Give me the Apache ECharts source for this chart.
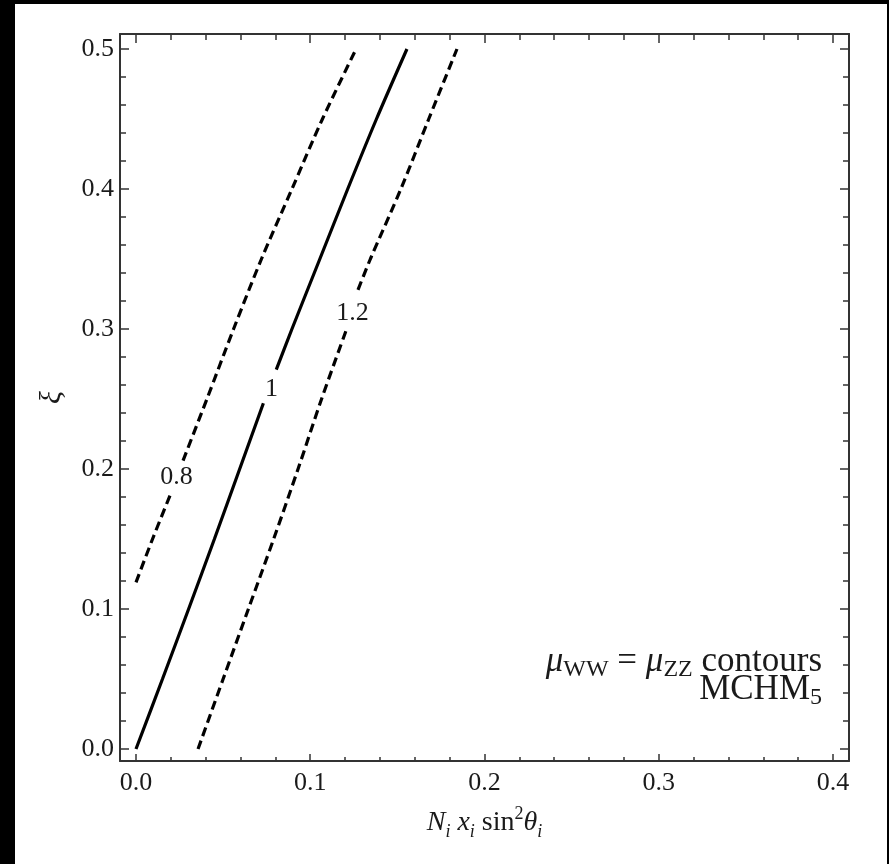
<!DOCTYPE html>
<html>
<head>
<meta charset="utf-8">
<script src="https://cdn.jsdelivr.net/npm/echarts@6/dist/echarts.min.js"></script>
<style>
  html, body { margin: 0; padding: 0; background: #000; }
  #paper { position: absolute; left: 15px; top: 4px; width: 872px; height: 860px; background: #fff; }
  #chart { position: absolute; left: 0; top: 0; width: 889px; height: 864px; }
</style>
</head>
<body>
<div id="paper"></div>
<div id="chart"></div>
<script>
// ---- data (x = N_i x_i sin^2 theta_i, y = xi) ----
const contour08Lower = [[0.0000,0.119],[0.0095,0.150],[0.0195,0.181]];
const contour08Upper = [[0.0270,0.206],[0.0407,0.250],[0.0560,0.300],[0.0720,0.350],[0.0895,0.400],[0.1070,0.450],[0.1263,0.500]];
const contour10Lower = [[0.0000,0.000],[0.0152,0.050],[0.0302,0.100],[0.0450,0.150],[0.0595,0.200],[0.0731,0.247]];
const contour10Upper = [[0.0805,0.271],[0.0895,0.300],[0.1055,0.350],[0.1215,0.400],[0.1380,0.450],[0.1555,0.500]];
const contour12Lower = [[0.0356,0.000],[0.0500,0.050],[0.0645,0.100],[0.0790,0.150],[0.0930,0.200],[0.1065,0.250],[0.1211,0.3007]];
const contour12Upper = [[0.1274,0.328],[0.1345,0.350],[0.1520,0.400],[0.1680,0.450],[0.1842,0.500]];

const contourLabelX = [0.0235, 0.078, 0.1245];
const contourLabelY = [0.194, 0.257, 0.311];
const contourLabelText = ['0.8', '1', '1.2'];

const xMajorTicks = [0, 0.1, 0.2, 0.3, 0.4];
const xMinorTicks = [0.02,0.04,0.06,0.08,0.12,0.14,0.16,0.18,0.22,0.24,0.26,0.28,0.32,0.34,0.36,0.38];
const yMajorTicks = [0, 0.1, 0.2, 0.3, 0.4, 0.5];
const yMinorTicks = [0.02,0.04,0.06,0.08,0.12,0.14,0.16,0.18,0.22,0.24,0.26,0.28,0.32,0.34,0.36,0.38,0.42,0.44,0.46,0.48];

const X_MIN = -0.00918, X_MAX = 0.40918;
const Y_MIN = -0.008571, Y_MAX = 0.510714;

const FONT = 'Liberation Serif';
const INK = '#1a1a1a';
const AX = '#333';

function axisX(pos, ticks, len, withLine, withLabels) {
  return {
    type: 'value', position: pos, min: X_MIN, max: X_MAX,
    axisLine: { show: withLine, onZero: false, lineStyle: { color: AX, width: 2 } },
    axisTick: { show: true, inside: true, length: len, customValues: ticks, lineStyle: { color: AX, width: 1.5 } },
    axisLabel: withLabels ? { show: true, customValues: ticks, margin: 9, fontFamily: FONT, fontSize: 26, color: INK,
      formatter: v => v.toFixed(1) } : { show: false },
    splitLine: { show: false }
  };
}
function axisY(pos, ticks, len, withLine, withLabels) {
  return {
    type: 'value', position: pos, min: Y_MIN, max: Y_MAX,
    axisLine: { show: withLine, onZero: false, lineStyle: { color: AX, width: 2 } },
    axisTick: { show: true, inside: true, length: len, customValues: ticks, lineStyle: { color: AX, width: 1.5 } },
    axisLabel: withLabels ? { show: true, customValues: ticks, margin: 6, fontFamily: FONT, fontSize: 26, color: INK,
      formatter: v => v.toFixed(1) } : { show: false },
    splitLine: { show: false }
  };
}

const xAxes = [
  axisX('bottom', xMajorTicks, 7, true, true),
  axisX('bottom', xMinorTicks, 4, false, false),
  axisX('top', xMajorTicks, 9, true, false),
  axisX('top', xMinorTicks, 6, false, false)
];
xAxes[0].name = '{i|N}{s|i} {i|x}{s|i} sin{p|2}{i|θ}{s|i}';
xAxes[0].nameLocation = 'middle';
xAxes[0].nameGap = 44;
xAxes[0].nameTextStyle = {
  fontFamily: FONT, fontSize: 28, color: INK, lineHeight: 36,
  rich: {
    i: { fontFamily: FONT, fontStyle: 'italic', fontSize: 28, color: INK, lineHeight: 36 },
    s: { fontFamily: FONT, fontStyle: 'italic', fontSize: 18, color: INK, verticalAlign: 'bottom', lineHeight: 18 },
    p: { fontFamily: FONT, fontSize: 18, color: INK, verticalAlign: 'top', lineHeight: 18 }
  }
};

const yAxes = [
  axisY('left', yMajorTicks, 9, true, true),
  axisY('left', yMinorTicks, 6, false, false),
  axisY('right', yMajorTicks, 9, true, false),
  axisY('right', yMinorTicks, 6, false, false)
];
yAxes[0].name = 'ξ';
yAxes[0].nameLocation = 'middle';
yAxes[0].nameRotate = 90;
yAxes[0].nameGap = 53;
yAxes[0].nameTextStyle = { fontFamily: FONT, fontStyle: 'italic', fontSize: 30, color: INK };

function line(data, dashed) {
  return {
    type: 'line', xAxisIndex: 0, yAxisIndex: 0, data: data, showSymbol: false, symbol: 'none',
    smooth: 0.3, clip: false, silent: true,
    lineStyle: { color: '#000', width: 3.2, type: dashed ? [9, 5] : 'solid' }
  };
}

const labelData = contourLabelX.map((x, k) => ({ value: [x, contourLabelY[k]], name: contourLabelText[k] }));

const noteRich = {
  i: { fontFamily: FONT, fontStyle: 'italic', fontSize: 35, fill: INK },
  n: { fontFamily: FONT, fontSize: 35, fill: INK },
  s: { fontFamily: FONT, fontSize: 24, fill: INK, verticalAlign: 'bottom', lineHeight: 24 }
};

const option = {
  backgroundColor: 'transparent',
  animation: false,
  grid: { left: 120, right: 40, top: 34, bottom: 103, containLabel: false },
  xAxis: xAxes,
  yAxis: yAxes,
  series: [
    line(contour08Lower, true), line(contour08Upper, true),
    line(contour10Lower, false), line(contour10Upper, false),
    line(contour12Lower, true), line(contour12Upper, true),
    {
      type: 'scatter', xAxisIndex: 0, yAxisIndex: 0, data: labelData, symbolSize: 1, silent: true,
      itemStyle: { opacity: 0 },
      label: { show: true, position: [0, 0], align: 'center', verticalAlign: 'middle', opacity: 1,
        formatter: p => p.name, fontFamily: FONT, fontSize: 26, color: INK }
    }
  ],
  graphic: [
    {
      type: 'text', x: 822, y: 662,
      style: {
        text: '{i|μ}{s|WW}{n| = }{i|μ}{s|ZZ}{n| contours}',
        align: 'right', verticalAlign: 'middle', fontFamily: FONT, fontSize: 35, fill: INK, lineHeight: 40,
        rich: noteRich
      }
    },
    {
      type: 'text', x: 822, y: 690,
      style: {
        text: '{n|MCHM}{s|5}',
        align: 'right', verticalAlign: 'middle', fontFamily: FONT, fontSize: 35, fill: INK, lineHeight: 40,
        rich: noteRich
      }
    }
  ]
};

const chart = echarts.init(document.getElementById('chart'), null, { renderer: 'canvas' });
chart.setOption(option);
</script>
</body>
</html>
